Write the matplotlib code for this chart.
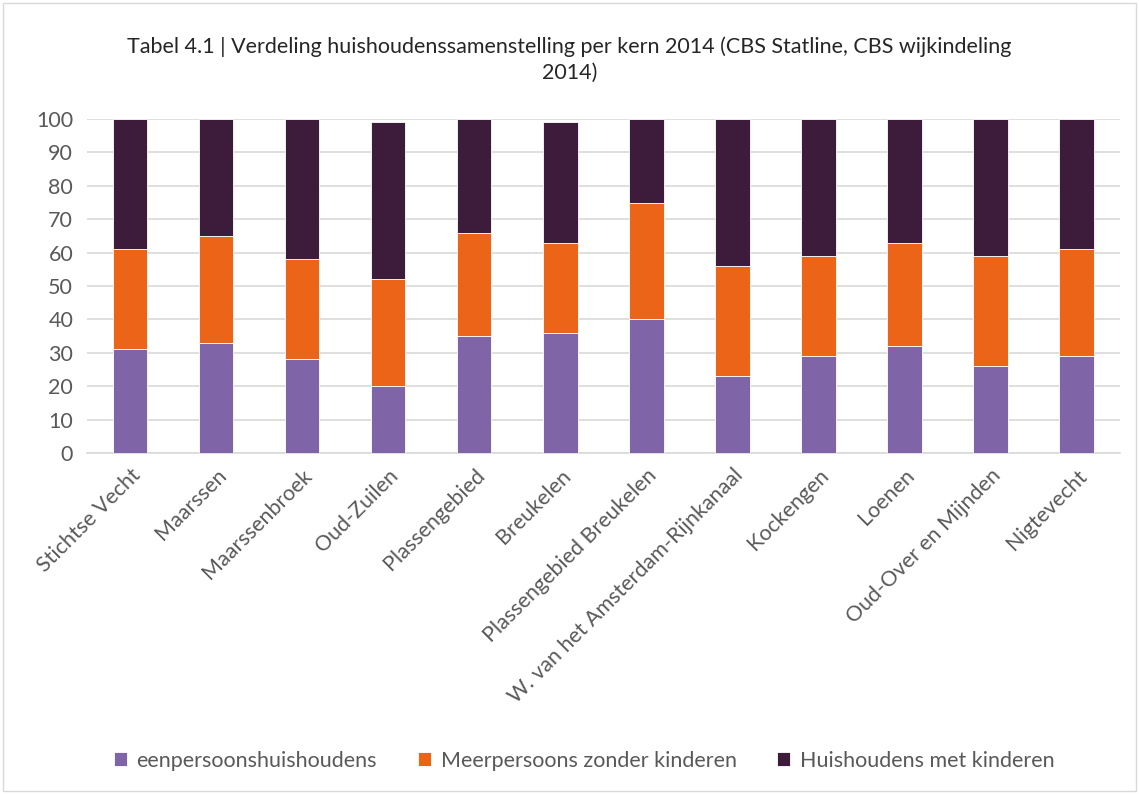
import matplotlib
matplotlib.use("Agg")
import matplotlib.pyplot as plt
import numpy as np

plt.rcParams['font.family'] = ['Lato', 'DejaVu Sans']

kernen = ['Stichtse Vecht', 'Maarssen', 'Maarssenbroek', 'Oud-Zuilen', 'Plassengebied',
          'Breukelen', 'Plassengebied Breukelen', 'W. van het Amsterdam-Rijnkanaal',
          'Kockengen', 'Loenen', 'Oud-Over en Mijnden', 'Nigtevecht']
eenpersoons = [31, 33, 28, 20, 35, 36, 40, 23, 29, 32, 26, 29]
meerpersoons = [30, 32, 30, 32, 31, 27, 35, 33, 30, 31, 33, 32]
met_kinderen = [39, 35, 42, 47, 34, 36, 25, 44, 41, 37, 41, 39]

c_een = '#8064A8'
c_meer = '#EB6418'
c_kind = '#3C1C3A'

fig = plt.figure(figsize=(11.39, 7.94), dpi=100)
ax = fig.add_axes([0.0764, 0.4295, 0.9066, 0.4205])

x = np.arange(len(kernen))
b1 = np.array(eenpersoons)
b2 = b1 + np.array(meerpersoons)
w = 0.4
ax.bar(x, eenpersoons, w, color=c_een, edgecolor='white', linewidth=0.6,
       label='eenpersoonshuishoudens', zorder=3)
ax.bar(x, meerpersoons, w, bottom=b1, color=c_meer, edgecolor='white', linewidth=0.6,
       label='Meerpersoons zonder kinderen', zorder=3)
ax.bar(x, met_kinderen, w, bottom=b2, color=c_kind, edgecolor='white', linewidth=0.6,
       label='Huishoudens met kinderen', zorder=3)

ax.set_xlim(-0.5, len(kernen) - 0.5)
ax.set_ylim(0, 100)
ax.set_yticks(range(0, 101, 10))
ax.yaxis.grid(True, color='#D9D9D9', linewidth=1.2, zorder=0)
ax.set_axisbelow(True)
for s in ['top', 'right', 'left']:
    ax.spines[s].set_visible(False)
ax.spines['bottom'].set_color('#D9D9D9')
ax.spines['bottom'].set_linewidth(1.2)
ax.tick_params(axis='both', length=0, colors='#595959', labelsize=15.5)
ax.tick_params(axis='y', pad=10)
ax.set_xticks(x)
ax.set_xticklabels(kernen, rotation=45, ha='right', rotation_mode='anchor')
ax.tick_params(axis='x', pad=9)

fig.text(0.5, 0.925, 'Tabel 4.1 | Verdeling huishoudenssamenstelling per kern 2014 (CBS Statline, CBS wijkindeling\n2014)',
         ha='center', va='center', fontsize=15.5, color='#262626', linespacing=1.35)

fig.legend(loc='center', bbox_to_anchor=(0.513, 0.042), ncol=3, frameon=False,
           fontsize=15.5, handlelength=0.6, handleheight=0.6, columnspacing=1.9,
           handletextpad=0.45, labelcolor='#595959')

fig.patches.append(plt.Rectangle((0.003, 0.004), 0.994, 0.992, transform=fig.transFigure,
                                 fill=False, edgecolor='#D9D9D9', linewidth=1))

fig.savefig('out.png', dpi=100)
